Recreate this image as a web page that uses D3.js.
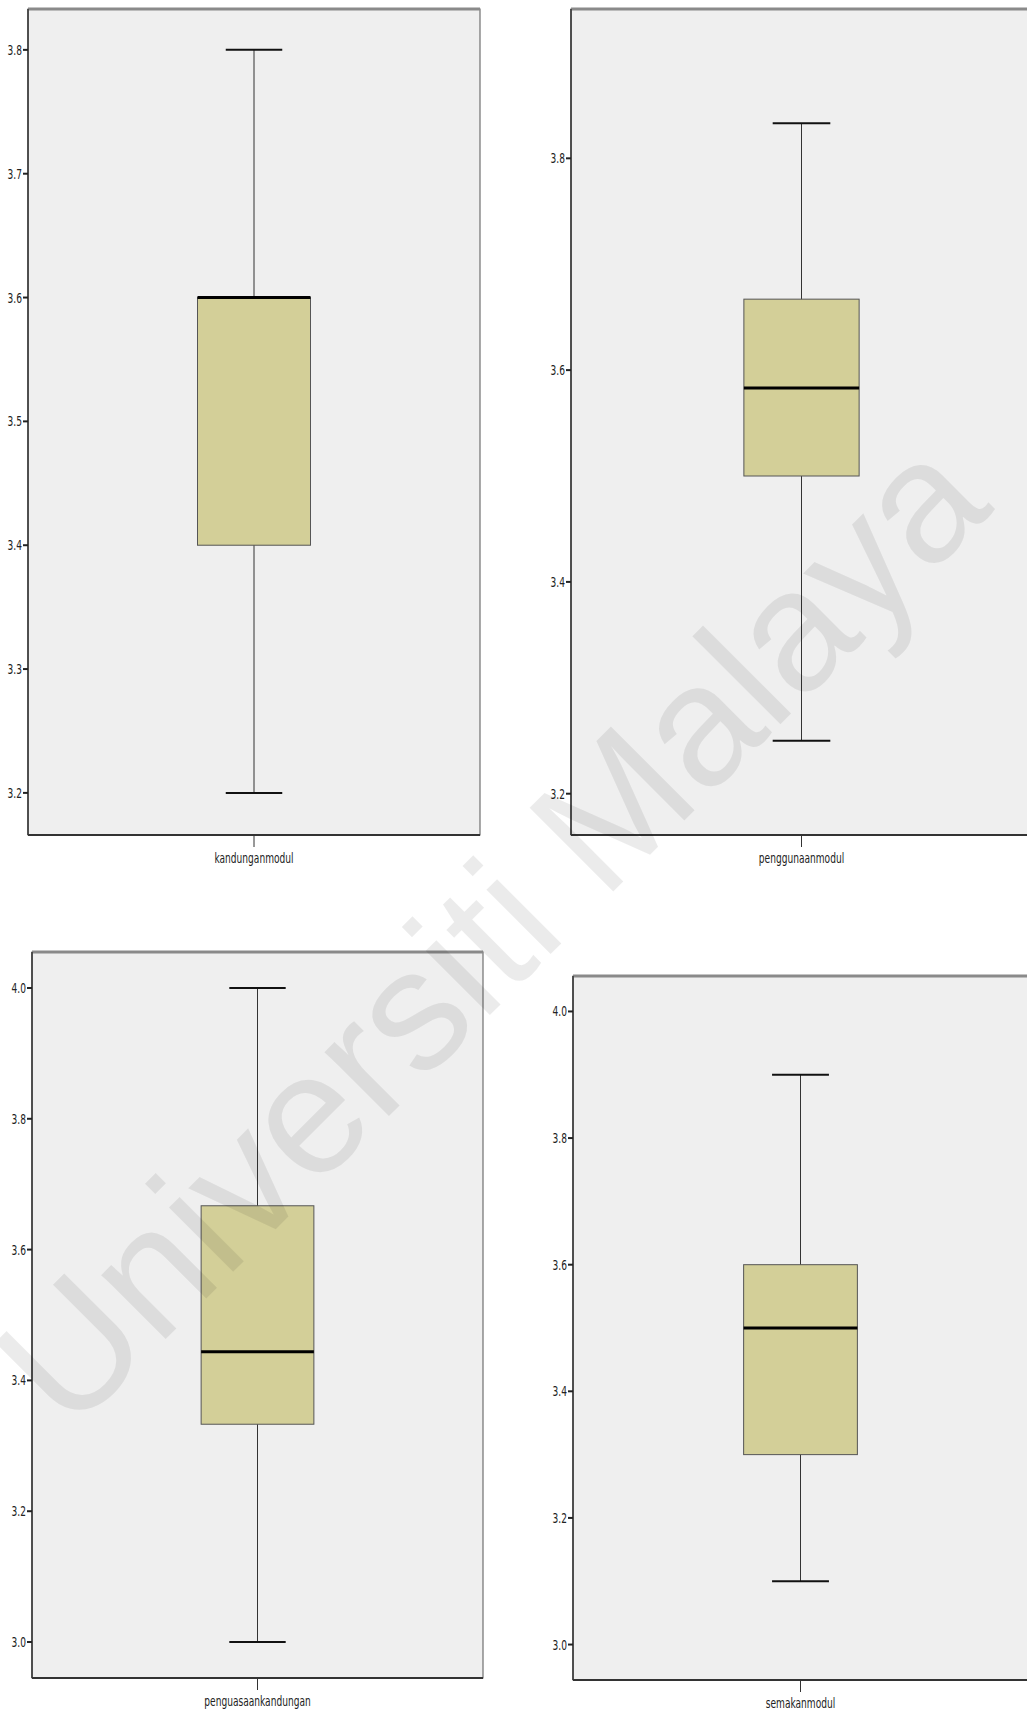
<!DOCTYPE html>
<html>
<head>
<meta charset="utf-8">
<script src="https://cdn.jsdelivr.net/npm/d3@7"></script>
<style>
  body { margin: 0; background: #fff; }
  svg { display: block; }
  .lbl { font-family: "Liberation Sans Narrow", "DejaVu Sans Condensed", sans-serif; font-size: 14px; fill: #222; }
</style>
</head>
<body>
<script>
const width = 1027, height = 1713;

// one box per variable
const variables = ['kandunganmodul', 'penggunaanmodul', 'penguasaankandungan', 'semakanmodul'];
const minimum = [3.2, 3.25, 3.0, 3.1];
const q1 = [3.4, 3.5, 3.333, 3.3];
const median = [3.6, 3.583, 3.444, 3.5];
const q3 = [3.6, 3.667, 3.667, 3.6];
const maximum = [3.8, 3.833, 4.0, 3.9];
const tickValues = [
    [3.2, 3.3, 3.4, 3.5, 3.6, 3.7, 3.8],
    [3.2, 3.4, 3.6, 3.8],
    [3.0, 3.2, 3.4, 3.6, 3.8, 4.0],
    [3.0, 3.2, 3.4, 3.6, 3.8, 4.0]
];
const yDomains = [[3.166, 3.833], [3.161, 3.941], [2.945, 4.055], [2.944, 4.056]];

// panel frames
const panels = [
    { left: 28, right: 480, top: 9, bottom: 835 },
    { left: 571, right: 1032, top: 9, bottom: 835 },
    { left: 32, right: 483, top: 952, bottom: 1678 },
    { left: 573, right: 1028, top: 976, bottom: 1680 }
];

const svg = d3.select('body').append('svg')
    .attr('width', width).attr('height', height);

const sx = 0.72; // condensed text

panels.forEach((p, i) => {
    const x = d3.scaleBand().domain([variables[i]]).range([p.left, p.right]).padding(0.6);
    const y = d3.scaleLinear().domain(yDomains[i]).range([p.bottom, p.top]);
    const g = svg.append('g');

    g.append('rect')
        .attr('x', p.left).attr('y', p.top)
        .attr('width', p.right - p.left).attr('height', p.bottom - p.top)
        .attr('fill', '#efefef').attr('stroke', '#555').attr('stroke-width', 1);
    g.append('line')
        .attr('x1', p.left).attr('x2', p.right).attr('y1', p.top).attr('y2', p.top)
        .attr('stroke', '#8a8a8a').attr('stroke-width', 3);
    g.append('line')
        .attr('x1', p.left).attr('x2', p.right).attr('y1', p.bottom).attr('y2', p.bottom)
        .attr('stroke', '#333').attr('stroke-width', 2);
    g.append('line')
        .attr('x1', p.left).attr('x2', p.left).attr('y1', p.top).attr('y2', p.bottom)
        .attr('stroke', '#333').attr('stroke-width', 1.5);

    // y ticks
    const ticks = g.selectAll('.ytick').data(tickValues[i]).join('g')
        .attr('class', 'ytick')
        .attr('transform', d => `translate(${p.left},${y(d)})`);
    ticks.append('line').attr('x1', -5).attr('x2', 0)
        .attr('stroke', '#222').attr('stroke-width', 2);
    ticks.append('text').attr('class', 'lbl')
        .attr('transform', `translate(-6,5) scale(${sx},1)`)
        .attr('text-anchor', 'end')
        .text(d3.format('.1f'));

    // x tick + label
    const cx = x(variables[i]) + x.bandwidth() / 2;
    g.append('line').attr('x1', cx).attr('x2', cx)
        .attr('y1', p.bottom).attr('y2', p.bottom + 12)
        .attr('stroke', '#333').attr('stroke-width', 1);
    g.append('text').attr('class', 'lbl')
        .attr('transform', `translate(${cx},${p.bottom + 28}) scale(${sx},1)`)
        .attr('text-anchor', 'middle')
        .text(variables[i]);

    // whisker
    const bw = x.bandwidth();
    g.append('line').attr('x1', cx).attr('x2', cx)
        .attr('y1', y(maximum[i])).attr('y2', y(minimum[i]))
        .attr('stroke', '#333').attr('stroke-width', 1);
    [maximum[i], minimum[i]].forEach(v => {
        g.append('line').attr('x1', cx - bw / 4).attr('x2', cx + bw / 4)
            .attr('y1', y(v)).attr('y2', y(v))
            .attr('stroke', '#111').attr('stroke-width', 2);
    });

    // box
    g.append('rect')
        .attr('x', x(variables[i])).attr('y', y(q3[i]))
        .attr('width', bw).attr('height', y(q1[i]) - y(q3[i]))
        .attr('fill', '#d3cf98').attr('stroke', '#555').attr('stroke-width', 1);
    g.append('line')
        .attr('x1', x(variables[i])).attr('x2', x(variables[i]) + bw)
        .attr('y1', y(median[i])).attr('y2', y(median[i]))
        .attr('stroke', '#000').attr('stroke-width', 3);
});

// watermark
svg.append('text')
    .attr('transform', 'translate(490,930) rotate(-45)')
    .attr('text-anchor', 'middle')
    .attr('dominant-baseline', 'central')
    .attr('font-family', 'Liberation Sans, Arial, sans-serif')
    .attr('font-size', 172)
    .attr('fill', '#000').attr('fill-opacity', 0.08)
    .text('Universiti Malaya');
</script>
</body>
</html>
